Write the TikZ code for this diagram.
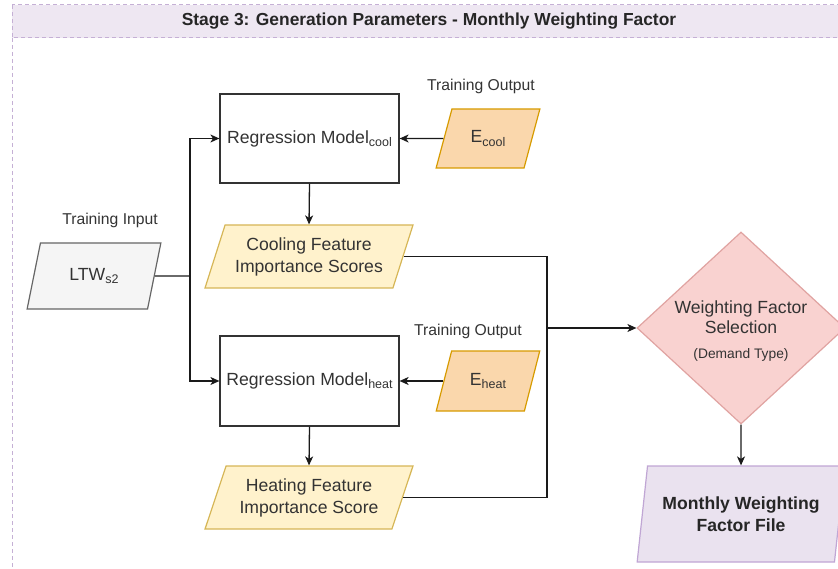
\documentclass[tikz,border=0pt]{standalone}
\usepackage{fontspec}
\setmainfont{Liberation Sans}
\usetikzlibrary{shapes.geometric,arrows.meta}

\definecolor{laneFill}{HTML}{EEE7F2}
\definecolor{laneLine}{HTML}{C5B0D5}
\definecolor{grayFill}{HTML}{F5F5F5}
\definecolor{grayLine}{HTML}{666666}
\definecolor{orangeFill}{HTML}{FAD7AC}
\definecolor{orangeLine}{HTML}{D79B00}
\definecolor{yellowFill}{HTML}{FFF2CC}
\definecolor{yellowLine}{HTML}{D6B656}
\definecolor{redFill}{HTML}{F9D2D0}
\definecolor{redLine}{HTML}{E0A3A1}
\definecolor{purpleFill}{HTML}{EAE2EF}
\definecolor{purpleLine}{HTML}{C0A6D4}
\definecolor{inkText}{HTML}{333333}
\definecolor{wire}{HTML}{1A1A1A}
\definecolor{boxLine}{HTML}{333333}

\newcommand\lowidx[1]{\raisebox{-0.35ex}{\fontsize{12.5}{14}\selectfont #1}}
\newcommand\bodyfont{\fontsize{17.6}{22}\selectfont}
\newcommand\smallfont{\fontsize{15.7}{18}\selectfont}

\begin{document}
\begin{tikzpicture}[x=1pt,y=-1pt,
  every node/.style={text=inkText,font=\bodyfont,align=center},
  iobox/.style={shape=trapezium,trapezium stretches=true,draw,line width=1.2pt,inner sep=0pt},
  procbox/.style={draw=boxLine,fill=white,line width=1.2pt,minimum width=179pt,minimum height=89pt,inner sep=0pt},
  caption/.style={font=\smallfont},
  wireline/.style={draw=wire,line width=1.3pt},
  arr/.style={wireline,-{Stealth[length=9pt,width=8pt,inset=2.5pt]}}
]
\path[use as bounding box,clip] (0,0) rectangle (838,569);

% swimlane frame and header band
\draw[laneLine,line width=1pt,dash pattern=on 4pt off 3pt] (12,38) -- (12,600);
\path[fill=laneFill,draw=laneLine,line width=1pt,dash pattern=on 4pt off 3pt] (12,5) rectangle (880,38);
\node[font=\bfseries\fontsize{17.4}{20}\selectfont,text=black!85] (title) at (429,21)
  {Stage 3: Generation Parameters - Monthly Weighting Factor};

% input data
\node[caption] (capin) at (110,220) {Training Input};
\node[iobox,fill=grayFill,draw=grayLine,trapezium left angle=68.5,trapezium right angle=111.5,
  minimum width=134pt,minimum height=66pt] (ltw) at (94,276) {LTW\lowidx{s2}};

% cooling branch
\node[procbox] (rmc) at (309.5,138.5) {Regression Model\lowidx{cool}};
\node[caption] (capc) at (481,86) {Training Output};
\node[iobox,fill=orangeFill,draw=orangeLine,trapezium left angle=63.8,trapezium right angle=116.2,
  minimum width=104pt,minimum height=59pt] (ecool) at (488,138.5) {E\lowidx{cool}};
\node[iobox,fill=yellowFill,draw=yellowLine,trapezium left angle=65.3,trapezium right angle=114.7,
  minimum width=208pt,minimum height=63pt] (fcool) at (309,256.5) {Cooling Feature\\Importance Scores};

% heating branch
\node[procbox,minimum height=90pt] (rmh) at (309.5,381) {Regression Model\lowidx{heat}};
\node[caption] (caph) at (468,331) {Training Output};
\node[iobox,fill=orangeFill,draw=orangeLine,trapezium left angle=63.8,trapezium right angle=116.2,
  minimum width=104pt,minimum height=60pt] (eheat) at (488,381) {E\lowidx{heat}};
\node[iobox,fill=yellowFill,draw=yellowLine,trapezium left angle=65.3,trapezium right angle=114.7,
  minimum width=208pt,minimum height=63pt] (fheat) at (309,497.5) {Heating Feature\\Importance Score};

% selection and output
\node[shape=diamond,fill=redFill,draw=redLine,line width=1.2pt,inner sep=0pt,
  minimum width=208pt,minimum height=192pt] (sel) at (741,328) {};
\node[yshift=-3pt] (seltext) at (sel.center)
  {Weighting Factor\\[-2pt]Selection\\[3pt]{\fontsize{13.8}{16}\selectfont (Demand Type)}};
\node[iobox,fill=purpleFill,draw=purpleLine,trapezium left angle=76,trapezium right angle=104,
  minimum width=208pt,minimum height=96pt,font=\bfseries\bodyfont,text=black!85] (wfile) at (741,514)
  {Monthly Weighting\\Factor File};

% connectors
\coordinate (trunk) at (190,276);
\coordinate (merge) at (547,328);
\draw[wireline] (ltw.east) -- (trunk);
\draw[arr] (trunk) |- (rmc.west);
\draw[arr] (trunk) |- (rmh.west);
\draw[arr] (ecool.west) -- (rmc.east);
\draw[arr] (eheat.west) -- (rmh.east);
\draw[arr] (rmc.south) -- (fcool.north);
\draw[arr] (rmh.south) -- (fheat.north);
\draw[arr] (fcool.east) -| (merge) -- (sel.west);
\draw[wireline] (fheat.east) -| (merge);
\draw[arr] (sel.south) -- (wfile.north);
\end{tikzpicture}
\end{document}
